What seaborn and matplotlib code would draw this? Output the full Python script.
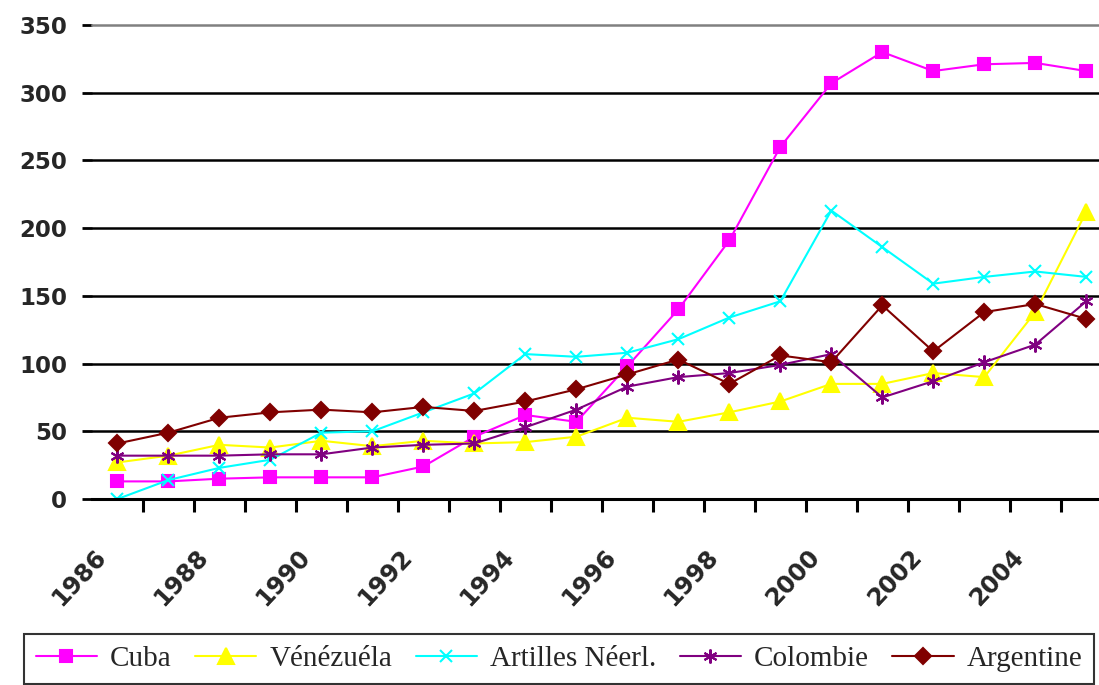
import matplotlib
matplotlib.use('Agg')
import matplotlib.pyplot as plt
import matplotlib.transforms as mtransforms
import seaborn as sns

years = list(range(1986, 2006))
cuba = [13, 13, 15, 16, 16, 16, 24, 46, 62, 57, 98, 140, 191, 260, 307, 330, 316, 321, 322, 316]
venezuela = [27, 32, 40, 38, 43, 39, 43, 41, 42, 46, 60, 57, 64, 72, 85, 85, 93, 90, 138, 212]
antilles = [0, 14, 23, 29, 49, 50, 64, 78, 107, 105, 108, 118, 134, 146, 213, 186, 159, 164, 168, 164]
colombie = [32, 32, 32, 33, 33, 38, 40, 41, 53, 66, 83, 90, 93, 99, 107, 75, 87, 101, 114, 146]
argentine = [41, 49, 60, 64, 66, 64, 68, 65, 72, 81, 92, 103, 85, 106, 101, 143, 109, 138, 144, 133]

names = ['Cuba', 'Vénézuéla', 'Artilles Néerl.', 'Colombie', 'Argentine']
series = [cuba, venezuela, antilles, colombie, argentine]
colors = ['#FF00FF', '#FFFF00', '#00FFFF', '#800080', '#800000']
markers = ['s', '^', 'x', (6, 2, 0), 'D']
msizes = [9, 11, 9, 10, 8.5]

sns.set_style('white')

fig = plt.figure(figsize=(10.99, 6.85), dpi=100)
ax = fig.add_axes([92 / 1099, 186 / 685, 1 - 92 / 1099, 474 / 685])

for name, vals, c, m, ms in zip(names, series, colors, markers, msizes):
    sns.lineplot(x=years, y=vals, ax=ax, color=c, marker=m, markersize=ms,
                 markeredgecolor=c, markeredgewidth=1.5, linewidth=1.5,
                 label=name, legend=False)

ax.set_xlim(1985.5, 2005.25)
ax.set_ylim(0, 350)

# gridlines
for v in range(50, 350, 50):
    ax.axhline(v, color='black', lw=1.8, zorder=0)

ax.set_yticks(range(0, 351, 50))
ax.set_yticklabels([str(v) for v in range(0, 351, 50)], fontsize=16.5, fontweight='bold')
ax.tick_params(axis='y', length=7, width=2, color='black', pad=11, left=True, direction='out')

ax.set_xticks(range(1986, 2005, 2))
ax.set_xticklabels([str(y) for y in range(1986, 2005, 2)], fontsize=17.5, fontweight='bold')
ax.set_xticks([y + 0.5 for y in range(1986, 2005)], minor=True)
ax.tick_params(axis='x', which='major', length=0, pad=33)
ax.tick_params(axis='x', which='minor', length=9, width=2.2, color='black', bottom=True, direction='out')
offset = mtransforms.ScaledTranslation(-24 / 100, 0, fig.dpi_scale_trans)
for lbl in ax.get_xticklabels():
    lbl.set_rotation(47)
    lbl.set_ha('right')
    lbl.set_va('top')
    lbl.set_rotation_mode('anchor')
    lbl.set_transform(lbl.get_transform() + offset)

for s in ['left', 'right']:
    ax.spines[s].set_visible(False)
ax.spines['bottom'].set_color('black')
ax.spines['bottom'].set_linewidth(2.2)
ax.spines['top'].set_color('gray')
ax.spines['top'].set_linewidth(1.8)

handles, labels = ax.get_legend_handles_labels()
leg = fig.legend(handles, labels, loc='upper left', bbox_to_anchor=(24 / 1099, 1 - 634 / 685),
                 ncol=5, frameon=True, fancybox=False, edgecolor='black',
                 prop={'family': 'Liberation Serif', 'size': 21},
                 handlelength=2.1, handletextpad=0.45, columnspacing=0.8,
                 borderpad=0.4, borderaxespad=0)
leg.get_frame().set_linewidth(1.5)

fig.savefig('out.png', dpi=100)
